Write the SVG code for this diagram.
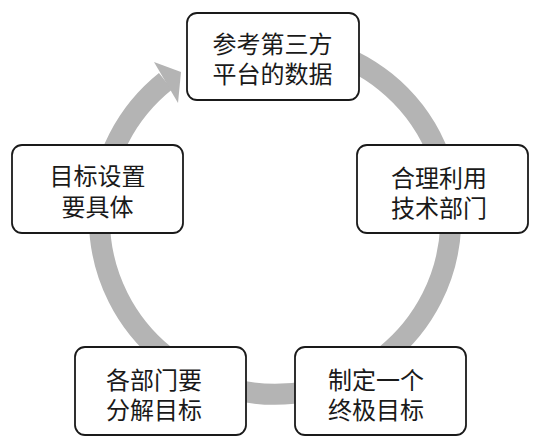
<svg xmlns="http://www.w3.org/2000/svg" width="539" height="446" viewBox="0 0 539 446">
  <style>
    .box { fill: #ffffff; stroke: #1a1a1a; stroke-width: 1.8; }
    .lbl { font-family: "Noto Sans CJK SC", "Noto Sans", sans-serif; font-size: 24px; fill: #1a1a1a; text-anchor: middle; }
    .ring { fill: none; stroke: #b4b4b4; stroke-width: 21; }
    .head { fill: #b4b4b4; }
  </style>
  <rect width="539" height="446" fill="#ffffff"/>
  <g id="connectors">
    <path class="ring" d="M 319.5 48.6 A 175.7 175.7 0 1 1 165.5 81.3"/>
    <polygon class="head" points="154,62 181,72 178,103"/>
  </g>
  <g id="node-top">
    <rect class="box" x="187" y="13" width="172" height="87" rx="10"/>
    <text class="lbl" x="272.5" y="52.5">参考第三方<tspan x="272.5" dy="30">平台的数据</tspan></text>
  </g>
  <g id="node-right">
    <rect class="box" x="357" y="145" width="171" height="88" rx="10"/>
    <text class="lbl" x="439" y="186.5">合理利用<tspan x="439" dy="30">技术部门</tspan></text>
  </g>
  <g id="node-bottom-right">
    <rect class="box" x="295" y="347" width="171" height="88" rx="10"/>
    <text class="lbl" x="376" y="389">制定一个<tspan x="376" dy="29.5">终极目标</tspan></text>
  </g>
  <g id="node-bottom-left">
    <rect class="box" x="75" y="347" width="171" height="88" rx="10"/>
    <text class="lbl" x="154" y="389">各部门要<tspan x="154" dy="29.5">分解目标</tspan></text>
  </g>
  <g id="node-left">
    <rect class="box" x="12" y="145" width="171" height="88" rx="10"/>
    <text class="lbl" x="97.5" y="185">目标设置<tspan x="97.5" dy="30.5">要具体</tspan></text>
  </g>
</svg>
